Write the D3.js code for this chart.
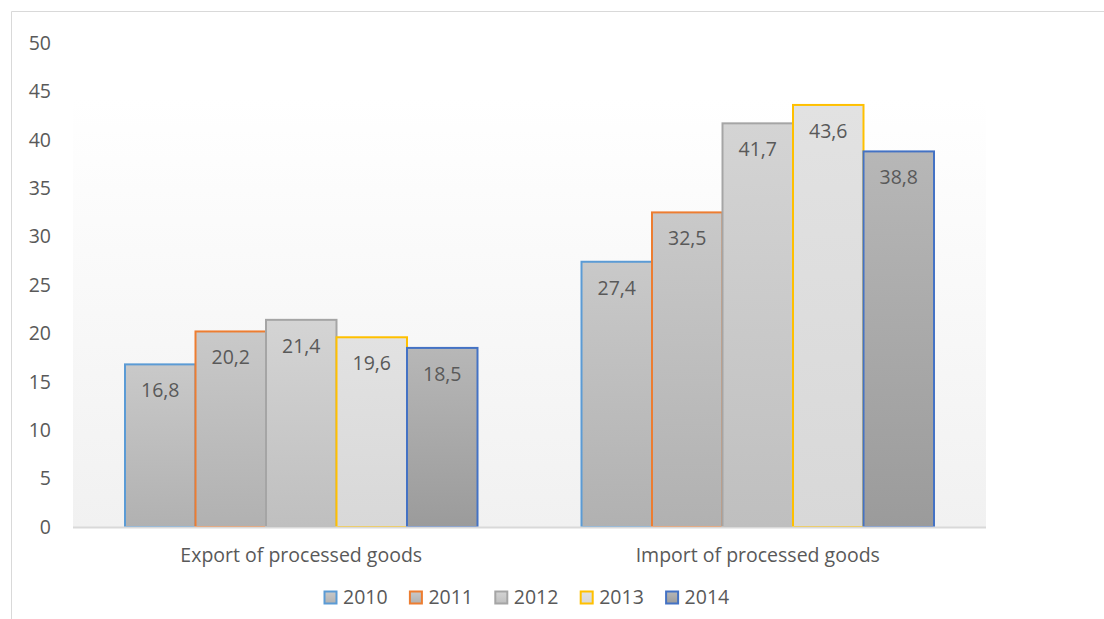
<!DOCTYPE html>
<html><head><meta charset="utf-8">
<script src="https://cdn.jsdelivr.net/npm/d3@7"></script>
<style>body{margin:0;background:#fff}svg{display:block}text{font-family:"Open Sans",sans-serif;fill:#595959}</style>
</head><body><svg id="c" width="1104" height="619"></svg>
<script>
const categories = ["Export of processed goods", "Import of processed goods"];
const years = ["2010", "2011", "2012", "2013", "2014"];
const v2010 = [16.8, 27.4];
const v2011 = [20.2, 32.5];
const v2012 = [21.4, 41.7];
const v2013 = [19.6, 43.6];
const v2014 = [18.5, 38.8];
const seriesValues = [v2010, v2011, v2012, v2013, v2014];
const yTicks = [0, 5, 10, 15, 20, 25, 30, 35, 40, 45, 50];
const outline = ["#5B9BD5", "#ED7D31", "#A5A5A5", "#FFC000", "#4472C4"];
const fillTop = ["#c9c9c9", "#c9c9c9", "#d4d4d4", "#e2e2e2", "#b7b7b7"];
const fillBot = ["#b1b1b1", "#b1b1b1", "#bfbfbf", "#d8d8d8", "#9b9b9b"];

const svg = d3.select("#c");
const defs = svg.append("defs");
years.forEach((yr, i) => {
  const g = defs.append("linearGradient").attr("id", "g" + i).attr("x1", 0).attr("y1", 0).attr("x2", 0).attr("y2", 1);
  g.append("stop").attr("offset", 0).attr("stop-color", fillTop[i]);
  g.append("stop").attr("offset", 1).attr("stop-color", fillBot[i]);
});
const bg = defs.append("linearGradient").attr("id", "bg").attr("x1", 0).attr("y1", 0).attr("x2", 0).attr("y2", 1);
bg.append("stop").attr("offset", 0).attr("stop-color", "#ffffff");
bg.append("stop").attr("offset", 1).attr("stop-color", "#f1f1f1");

// chart frame
svg.append("line").attr("x1", 11.5).attr("x2", 1104).attr("y1", 11.5).attr("y2", 11.5).attr("stroke", "#d9d9d9");
svg.append("line").attr("x1", 11.5).attr("x2", 11.5).attr("y1", 11.5).attr("y2", 619).attr("stroke", "#d9d9d9");

const pLeft = 73, pRight = 986, pTop = 43, pBottom = 527;
const y = d3.scaleLinear().domain([0, 50]).range([pBottom, pTop]);
const x0 = d3.scaleBand().domain(categories).range([pLeft, pRight]).padding(0);
const x1 = d3.scaleBand().domain(years).range([52, x0.bandwidth() - 52]).padding(0);

// plot background
svg.append("rect").attr("x", pLeft).attr("y", 98).attr("width", pRight - pLeft).attr("height", pBottom - 98).attr("fill", "url(#bg)");

// y axis labels
const yAxis = d3.axisLeft(y).tickValues(yTicks).tickSize(0).tickPadding(0);
const ga = svg.append("g").attr("transform", "translate(51,0)").call(yAxis);
ga.select(".domain").remove();
ga.selectAll("text").style("font-size", "19.5px").attr("fill", "#595959").style("font-family", '"Open Sans",sans-serif');

// bars
categories.forEach((cat, ci) => {
  const g = svg.append("g").attr("transform", `translate(${x0(cat)},0)`);
  years.forEach((yr, si) => {
    const v = seriesValues[si][ci];
    g.append("rect")
      .attr("x", x1(yr)).attr("y", y(v))
      .attr("width", x1.bandwidth()).attr("height", y(0) - y(v))
      .attr("fill", `url(#g${si})`).attr("stroke", outline[si]).attr("stroke-width", 2);
    g.append("text")
      .attr("x", x1(yr) + x1.bandwidth() / 2).attr("y", y(v) + 33)
      .attr("text-anchor", "middle").style("font-size", "19.5px")
      .text(String(v).replace(".", ","));
  });
});

// baseline
svg.append("line").attr("x1", pLeft).attr("x2", pRight).attr("y1", pBottom + 0.5).attr("y2", pBottom + 0.5).attr("stroke", "#d9d9d9").attr("stroke-width", 2);

// category labels
const xAxis = d3.axisBottom(x0).tickSize(0).tickPadding(0);
const gx = svg.append("g").attr("transform", `translate(0,${pBottom})`).call(xAxis);
gx.select(".domain").remove();
gx.selectAll("text").attr("dy", null).attr("y", 35).style("font-size", "19.5px").attr("fill", "#595959").style("font-family", '"Open Sans",sans-serif');

// legend
const lx = d3.scaleBand().domain(years).range([324, 751]);
const lg = svg.append("g");
years.forEach((yr, i) => {
  lg.append("rect").attr("x", lx(yr) + 0.5).attr("y", 591.5).attr("width", 12).attr("height", 12)
    .attr("fill", `url(#g${i})`).attr("stroke", outline[i]).attr("stroke-width", 2);
  lg.append("text").attr("x", lx(yr) + 19).attr("y", 604).style("font-size", "19.5px").text(yr);
});
</script></body></html>
